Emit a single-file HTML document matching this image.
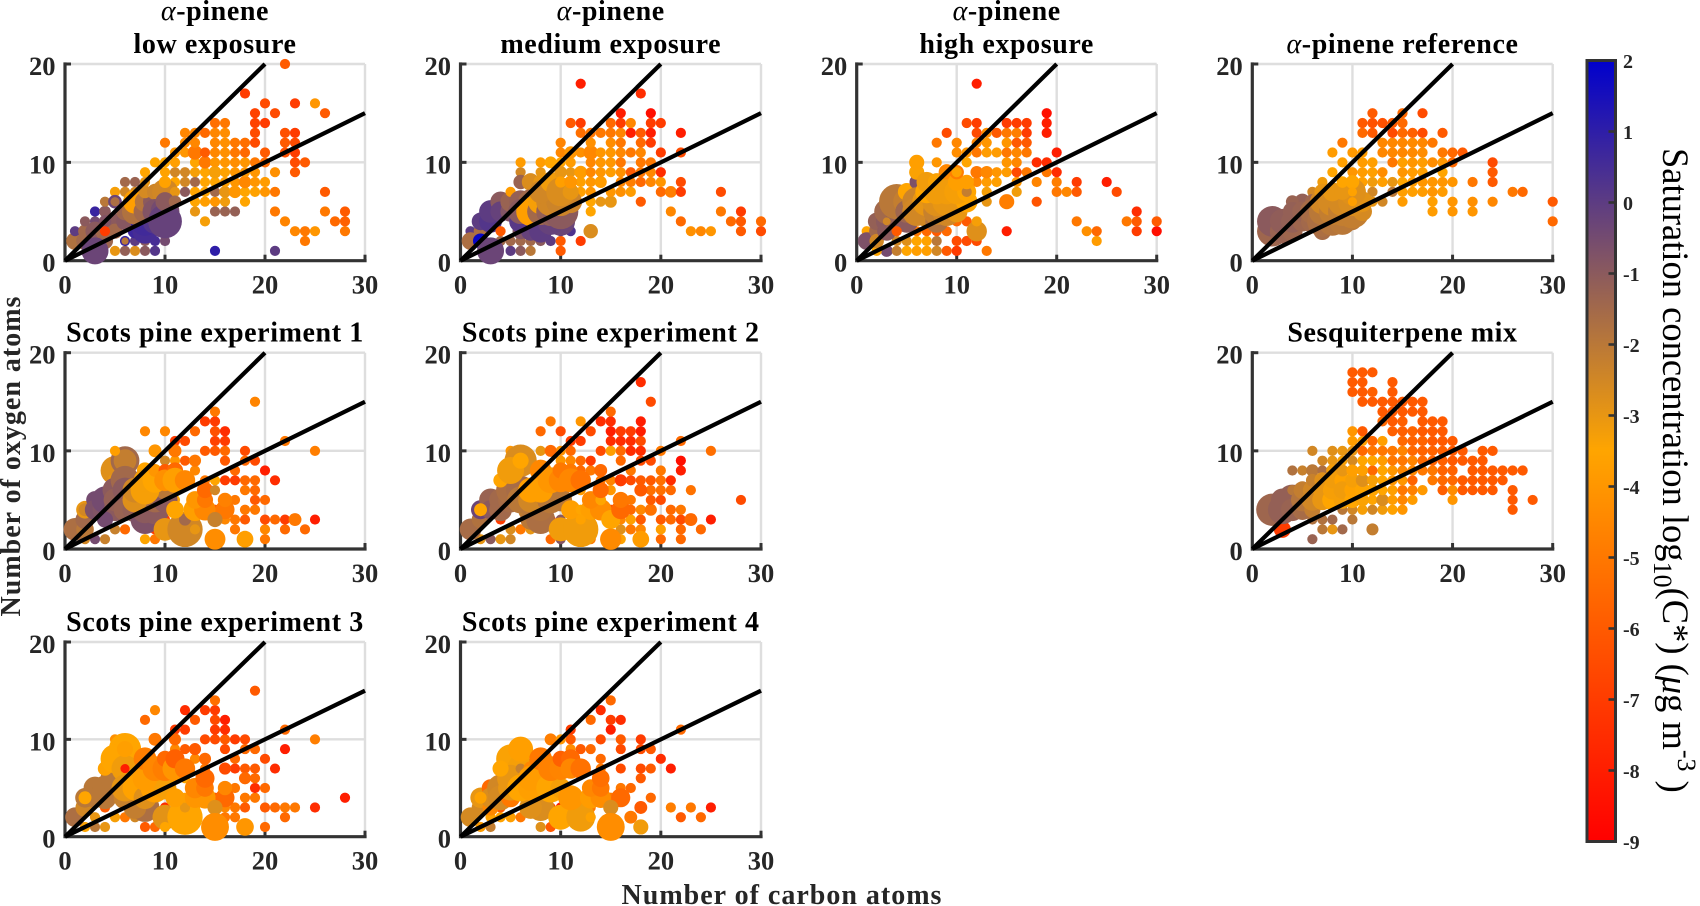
<!DOCTYPE html>
<html lang="en">
<head>
<meta charset="utf-8">
<title>Saturation concentration bubble charts</title>
<style>
html,body{margin:0;padding:0;background:#fff;width:1700px;height:906px;overflow:hidden}
svg{display:block}
text{font-family:"Liberation Serif",serif}
</style>
</head>
<body>
<svg id="figure" xmlns="http://www.w3.org/2000/svg" width="1700" height="906" viewBox="0 0 1700 906">
<defs>
<linearGradient id="cmap" x1="0" y1="0" x2="0" y2="1">
<stop offset="0" stop-color="#0000cd"/>
<stop offset="0.5" stop-color="#ffa500"/>
<stop offset="1" stop-color="#ff0000"/>
</linearGradient>
</defs>
</svg>
<script>
// Each mark: [carbon atoms, oxygen atoms, log10 C*, relative signal (default 1)]. Array order is draw order.
const xTicks = [0, 10, 20, 30];
const yTicks = [0, 10, 20];
const colorTicks = [2, 1, 0, -1, -2, -3, -4, -5, -6, -7, -8, -9];

const lowExposure = [
[5,1,-3],[6,1,-1.2],[7,1,-2.7],[8,1,-1],[9,1,.2],[15,1,1],[21,1,0],
[7,2,0],[8,2,-1],[9,2,.5],[10,2,-.5],[24,2,-5],
[23,3,-4.5],[24,3,-5],[25,3,-4],[28,3,-5],
[14,4,-3.3],[22,4,-4.6],[27,4,-5.5],[28,4,-5.8],
[13,5,-3],[15,5,-1.3],[16,5,-1.3],[17,5,-1.2],[21,5,-5],[26,5,-5],[28,5,-6],
[13,6,-3.5],[14,6,-3.7],[15,6,-4],[16,6,-3.2],[18,6,-3.5],
[12,7,-1],[13,7,-3.5],[14,7,-3.5],[15,7,-1.5],[16,7,-3,1.3],[17,7,-4,1.5],[18,7,-3.5],[19,7,-3.6],[20,7,-4],[21,7,-5],[26,7,-6],
[11,8,-3.5],[12,8,-2.5],[13,8,-1.5],[14,8,-3.5],[15,8,-3.5],[16,8,-3.7],[17,8,-4],[18,8,-4.5,1.5],[19,8,-4],[20,8,-3.8],
[8,9,-3.5],[10,9,-3.6],[11,9,-2.5],[12,9,-2.5],[13,9,-3.3],[14,9,-3.5],[15,9,-3.3,1.5],[16,9,-3.6],[17,9,-4],[18,9,-4],[19,9,-4],[21,9,-4.2],[23,9,-6],
[9,10,-3.5],[10,10,-3.5],[11,10,-3.7],[13,10,-3.5],[14,10,-5,1.5],[15,10,-4],[16,10,-4],[17,10,-4.3],[18,10,-4],[19,10,-5],[20,10,-5.5],[23,10,-6.5],[24,10,-6],
[11,11,-4],[12,11,-4],[13,11,-5,2],[14,11,-6],[15,11,-4.5],[16,11,-4.2],[17,11,-5],[18,11,-5.5],[20,11,-6],[22,11,-6.3],[23,11,-7],
[10,12,-5],[12,12,-4.3],[13,12,-4.5],[15,12,-4.5],[16,12,-4.2],[17,12,-5],[18,12,-5.3],[19,12,-6.5],[22,12,-6],[23,12,-6.5],
[12,13,-4.5],[13,13,-4.5],[14,13,-5.5],[15,13,-4.5],[16,13,-4.3],[19,13,-6.5],[22,13,-6.3],[23,13,-7],
[15,14,-5.3],[16,14,-5],[19,14,-6.8],[20,14,-7],[19,15,-6.8],[21,15,-6.5],[26,15,-6],
[20,16,-6.5],[23,16,-7],[25,16,-4],[18,17,-7],[22,20,-6],
[6,8,-1.5],[7,8,-1.3],[8,8,-3],[5,7,-3.3],[6,7,-2.5],[7,7,-2.5],[8,7,-3],[9,7,-3],
[1,2,-1.8,3],[1,3,0],[2,3,-1.5,1.8],[2,2,-1.5,3],[2,4,-1],[3,4,-.5],[3,5,.8],[4,5,-1,1.3],[4,6,-2],[5,6,-.3,1.8],[5,6,-1.7,.8],
[3,3,-1,3.5],[4,3,-1.5,3.5],[4,2,-1.4,2.5],[5,4,-1,2.5],[5,3,-1.5,2.2],[4,4,-.8,1.5],[3,1,-.3,7],[6,2,.8,1],[6,2,-2,.5],
[7,4,.6,2.5],[7,3,.7,2],[6,4,-.9,3],[6,5,-1.4,3],[8,3,.5,6],[8,4,.6,8],[9,4,.2,6],[7,5,-1.8,6.5],[7,6,-3.7,5.5],[8,5,-1.5,5],[8,6,-1.9,4],[9,6,-1,5.5],[8,7,-2.6,1.6],
[9,7,-2.4,2.5],[10,7,-2.5,6.5],[11,7,-3],[10,6,-3.5],[9,5,-.8,6],[10,5,-.5,8],[10,4,-.2,11],[10,6,-1,3.5],[10,8,-3.6,1.4],[11,6,-1.5,1.5],[4,3,-7]
];

const mediumExposure = [
[5,1,0],[6,1,-1],[7,1,-2],[10,1,-6],
[4,2,-1.5],[5,2,-1.5],[6,2,-1.5],[7,2,-1.5],[8,2,-1],[9,2,0],[10,2,-6],[12,2,-7],
[1,3,0],[2,3,-1],[10,3,0],[11,3,.3],[13,3,-2.7,2],[23,3,-4.2],[24,3,-4.5],[25,3,-4],[28,3,-6],[30,3,-6.5],
[22,4,-5.5],[27,4,-5.5],[28,4,-6],[30,4,-5.5],
[13,5,-3.5],[21,5,-4.5],[26,5,-5],[28,5,-7],
[13,6,-3.5],[14,6,-3],[15,6,-3,1.4],[18,6,-6],
[11,7,-3.5],[12,7,-3.7],[13,7,-4],[15,7,-4],[16,7,-4.2],[17,7,-3.8],[20,7,-5.5],[21,7,-4.8,1.3],[22,7,-7],[26,7,-6.5],
[12,8,-3.7],[13,8,-4],[14,8,-3.8,1.4],[16,8,-4.5],[17,8,-4.8],[18,8,-5.5],[19,8,-4.5],[20,8,-4],[22,8,-6.5],
[6,9,-2.5],[8,9,-3],[11,9,-3],[12,9,-3.8,1.6],[13,9,-4.5],[14,9,-4],[15,9,-3.8],[16,9,-4.2],[17,9,-6],[18,9,-5],[19,9,-4.5],[20,9,-7.5],
[6,10,-3.8],[8,10,-3.8],[9,10,-3.5,1.4],[10,10,-3.5],[11,10,-3.8],[13,10,-4.5],[14,10,-4],[15,10,-4],[16,10,-5],[18,10,-5],[19,10,-5],
[10,11,-4.5],[11,11,-4,1.5],[12,11,-4.2],[13,11,-4.5,2],[14,11,-4],[15,11,-4],[16,11,-4.5],[17,11,-5],[18,11,-4.5],[20,11,-7],[22,11,-6.5],
[10,12,-4.6],[13,12,-4.2],[15,12,-4.3],[16,12,-5],[18,12,-5.5],[19,12,-7],
[12,13,-5.3],[13,13,-5],[14,13,-5],[15,13,-5],[16,13,-4.6],[17,13,-8],[18,13,-6],[19,13,-8],[22,13,-8],
[11,14,-6],[12,14,-7],[15,14,-5.5],[16,14,-7],[17,14,-4.5],[19,14,-7],[20,14,-7],
[16,15,-8],[19,15,-8.5],[18,17,-7.5],[12,18,-8],
[1,2,-1.7,3],[2,3,-1.7,1.8],[2,4,0,3],[3,4,.2,5],[3,5,0,5],[2,2,1.8,2.2],[3,1,-.3,7],[4,6,-1,4],[4,5,-.2,4],[5,5,-.8,4],[5,6,-1.3,4],[5,7,-3.8],[6,8,-1.3,2],[6,6,-1.2,5],[7,8,-2.7,3],[8,8,-3,2],
[6,3,-.8,2.5],[7,3,-.2,3.5],[4,3,-6],[6,4,.1,5],[8,3,0,5],[8,4,0,8],[7,6,-1.5,6],[10,4,-.3,8],[9,4,-.2,7],[6,5,-1,6],[7,5,-3.7,8],[8,5,-1.5,7],[8,6,-3.3,6],[9,5,-1.2,8],[10,5,-1,12],
[9,6,-2.5,8],[10,6,-2.4,8],[11,6,-2.4,5],[8,7,-2.5,5],[9,8,-3.2,4],[10,7,-2.7,8],[11,7,-3,2.5],[10,9,-3,1.5],[10,8,-3.7,1.2],[11,8,-4,1.6]
];

const highExposure = [
[3,1,-.5,1.4],[4,1,-2.2],[5,1,-3.5],[6,1,-3.7],[7,1,-3.7],[8,1,-2.5],[9,1,-6],[10,1,-7],[13,1,-5],
[4,2,-2.5],[5,2,-2.8],[6,2,-3.5],[7,2,-3.6],[8,2,-2],[10,2,-6.5],[11,2,-6.5],[12,2,-6.5],[24,2,-3.8],
[1,3,-3.5],[6,3,-5],[7,3,-5.5],[8,3,-6],[9,3,-5.5],[15,3,-8],[23,3,-4.2],[24,3,-5.5],[28,3,-7],[30,3,-8.5],
[10,4,-5.5],[11,4,-6],[22,4,-5],[27,4,-5],[28,4,-6],[30,4,-6],[28,5,-7.5],
[13,6,-3],[15,6,-4.8,2.2],[18,6,-6.2],
[13,7,-3.3],[16,7,-3.2],[20,7,-5],[21,7,-4.5],[22,7,-6],[26,7,-6.5],
[12,8,-4.5],[13,8,-3.8],[14,8,-3.7],[16,8,-4],[18,8,-4.6],[20,8,-4.8],[22,8,-7],[25,8,-8],
[12,9,-5,1.5],[13,9,-4.5,1.5],[14,9,-4],[15,9,-3.8],[16,9,-6.5],[17,9,-5],[19,9,-5],[20,9,-7.5],
[8,10,-4],[15,10,-4],[16,10,-4.5],[18,10,-7.5],[19,10,-7.5],
[10,11,-4.3],[11,11,-4],[12,11,-5],[13,11,-3.8],[14,11,-3.8],[15,11,-5],[16,11,-4.5],[17,11,-5],[20,11,-8],
[8,12,-5],[10,12,-4.5],[12,12,-4.5],[13,12,-4],[15,12,-4],[16,12,-6],[17,12,-6],
[9,13,-6.5],[12,13,-6.5],[13,13,-4.3],[14,13,-6],[15,13,-5],[16,13,-4.8],[17,13,-7],[19,13,-8],
[11,14,-6.5],[12,14,-7],[15,14,-7],[16,14,-7],[17,14,-7],[19,14,-8],[19,15,-8.5],[12,18,-8],
[1,2,-.7,3],[2,1,-3.5],[2,3,-1.5,2.2],[2,2,-2.5,2],[12,3,-2.8,4],[12,4,-3.3],
[2,4,-1.2,3],[3,3,-1,3.5],[3,4,-1,4.5],[3,5,-1.5,6],[4,4,-1.2,5],[5,4,-1,5],[4,6,-2,12],[3,4,-2.5,.6],[4,3,-6],[5,6,-2.2,7],
[5,7,-3.5,3],[6,8,-.7,2],[6,9,-3.4,2.2],[6,10,-3.7,2.2],[5,5,-1.4,5],[6,6,-2.4,8],[6,5,-2.5,8],[7,5,-2.5,9],[8,4,-1.8,5],[7,6,-3,8],[8,5,-2.3,7],[9,5,-2.5,8],[8,6,-2.8,8],[9,6,-3,8],[7,7,-3.5,5],[8,7,-3.2,6],
[7,8,-3.2,4],[8,8,-3.4,3],[9,9,-4.5,2.5],[10,5,-3,4.5],[10,6,-3,6.5],[11,6,-3.5,4.5],[9,7,-3.2,6],[10,7,-3.3,6],[11,7,-3.5,3.5],[11,7,-2.2],[11,8,-3.7,2],[10,8,-3.7,3],[10,9,-4.8,2],[10,9,-3.6,1],[11,10,-3.5]
];

const pineneReference = [
[30,4,-5.5],[18,5,-3.8],[20,5,-4],[22,5,-4],
[12,6,-3],[13,6,-2.5],[15,6,-3.8],[18,6,-3.7],[20,6,-4],[22,6,-4.2],[24,6,-4.5],[30,6,-6],
[12,7,-2.5],[14,7,-2],[15,7,-3.7],[16,7,-3.7],[17,7,-3.8],[18,7,-4],[19,7,-3.8],[26,7,-5],[27,7,-5.5],
[7,8,-3.2],[11,8,-3.7],[12,8,-3.2],[13,8,-3.7],[14,8,-3],[15,8,-3.5],[16,8,-3.8],[17,8,-4],[18,8,-4],[19,8,-4],[20,8,-4],[22,8,-5],[24,8,-6],
[8,9,-3.5],[10,9,-4],[11,9,-3.8],[12,9,-3.7],[13,9,-4.3],[15,9,-4],[16,9,-3.8],[17,9,-3.7],[19,9,-3.5],[24,9,-6],
[9,10,-3.7],[11,10,-3.8],[12,10,-3.7],[14,10,-5],[15,10,-3.7],[16,10,-4],[17,10,-3.8],[18,10,-4.3],[19,10,-4],[20,10,-5.5],[24,10,-6.5],
[8,11,-3.8],[10,11,-3.9],[11,11,-3.8],[13,11,-4.5],[14,11,-4.5],[15,11,-4.5],[16,11,-4.4],[17,11,-4.3],[19,11,-5],[20,11,-5.5],[21,11,-6],
[9,12,-5],[13,12,-4.5],[14,12,-4.5],[15,12,-4.5],[16,12,-4.4],[17,12,-4.5],[18,12,-5],
[11,13,-5.5],[12,13,-6],[14,13,-6.5],[15,13,-5.5],[16,13,-5.8],[17,13,-6.5],[19,13,-6],
[11,14,-6],[12,14,-6.3],[13,14,-6.3],[14,14,-6],[15,14,-5.5],[12,15,-6],[15,15,-5.5],[17,15,-6.5],
[6,7,-2.5],[5,6,-1.2,2.5],[4,6,-1.3,1.6],[6,6,-1.4,2.2],
[2,3,-1.4,9],[2,4,-1,9],[3,3,-1.3,6],[3,4,-1.1,6],[4,3,-1.4,4],[4,4,-1.2,5],[4,5,-1.2,3.5],[5,4,-1.4,4],[5,5,-1.3,4],[6,4,-1.5,5],[6,5,-1.6,6],
[7,3,-1.6,3],[7,4,-1.7,9],[8,4,-1.9,8],[9,4,-2,7],[10,4,-2,3],[7,5,-2,7],[7,6,-2.5,6],[7,7,-3,2.5],[8,5,-2.2,7],[8,6,-2.6,8],[9,5,-2.2,8],[10,5,-2.2,11],[11,5,-2.6,3.5],[9,6,-2.6,8],[10,6,-2.7,8],[11,6,-2.9,4],[8,7,-3,3.5],[10,7,-2.8,7],[9,7,-3,2.5],[9,8,-3.5,1.3],[10,8,-3.5,1.8],[10,7,-3.6,.8],[10,6,-3.7,.8]
];

const sesquiterpeneMix = [
[6,1,-1.3],[7,2,-2],[8,2,-3],[9,2,-1.5],[12,2,-2.2,1.4],[3,2,-7,2.8],
[6,3,-1.8],[7,3,-1.8],[8,3,-1.5],[10,3,-2],
[9,4,-2],[10,4,-2.5],[11,4,-3.3],[12,4,-2.5],[13,4,-3.2],[14,4,-3.6],[15,4,-4],[26,4,-6],
[12,5,-3.5],[13,5,-2.7,1.5],[14,5,-3.8],[15,5,-4.5],[16,5,-3.8],[20,5,-4],[26,5,-6],[28,5,-6],
[13,6,-3.5],[14,6,-3.7],[15,6,-5],[16,6,-4.7],[17,6,-3.9],[19,6,-5.8],[20,6,-4.3],[21,6,-6],[22,6,-6],[23,6,-6],[24,6,-6],[26,6,-6],
[12,7,-3],[13,7,-3.5],[14,7,-4],[15,7,-4],[16,7,-5.7],[18,7,-5],[19,7,-5.5],[20,7,-5.5],[21,7,-6],[22,7,-6],[23,7,-6],[24,7,-6],[25,7,-6],
[4,8,-1.8],[5,8,-2.3],[6,8,-2,1.5],[7,8,-1.7],[12,8,-5.5],[13,8,-3.5],[14,8,-4],[15,8,-4.5],[16,8,-4.5],[17,8,-5],[18,8,-5],[19,8,-5.7],[20,8,-5.7],[22,8,-6],[23,8,-6],[24,8,-6],[25,8,-6],[26,8,-6],[27,8,-6],
[7,9,-2.5],[8,9,-3],[9,9,-3.3],[10,9,-2.6],[11,9,-3.5],[12,9,-3.5],[13,9,-3.8],[14,9,-5],[15,9,-5],[16,9,-4.6],[17,9,-5.5],[18,9,-5.7],[19,9,-5.8],[20,9,-6],[21,9,-6],[22,9,-6],[23,9,-6],
[6,10,-2.5],[8,10,-2.8],[9,10,-3],[10,10,-3],[11,10,-5.5],[12,10,-5],[13,10,-5],[14,10,-5],[15,10,-4.6],[16,10,-5.5],[17,10,-5.7],[18,10,-5.7],[19,10,-5.8],[20,10,-6],[21,10,-6],[23,10,-6],[24,10,-6],
[10,11,-3.8],[11,11,-3.7],[12,11,-5.5],[13,11,-3.7],[15,11,-5.5],[16,11,-5.7],[17,11,-5.7],[18,11,-6],[19,11,-6],[20,11,-6],
[10,12,-4],[11,12,-6],[14,12,-5.8],[15,12,-5.8],[16,12,-5.7],[17,12,-6],[18,12,-6],[19,12,-6],
[13,13,-5.5],[14,13,-6],[15,13,-5.8],[17,13,-6],[18,13,-6],[19,13,-6],
[13,14,-6],[14,14,-6],[15,14,-6],[16,14,-6],[17,14,-6],
[11,15,-6],[12,15,-6],[13,15,-6],[14,15,-6],[15,15,-6],[16,15,-6],[17,15,-6],
[10,16,-6],[11,16,-6],[12,16,-5.8],[14,16,-6],[10,17,-6],[11,17,-6],[14,17,-6],[10,18,-6],[11,18,-6],[12,18,-6],
[2,4,-1.4,10],[3,4,-1.2,8],[3,5,-1.2,5],[4,5,-1.2,9],[4,6,-2],[4,4,-1.3,5],[5,4,-1.6,4],[5,5,-1.9,5],[5,6,-2.2,3],[6,4,-2.2,2.5],[6,5,-2.5,4.5],[6,6,-2.5,3.5],[6,7,-2.3,1.6],[7,7,-2.8,2.5],[7,6,-3,3.5],[7,5,-3,4],[8,5,-3.5,4],
[8,6,-3.3,3.5],[8,7,-3.2,2.5],[9,5,-3.3,3],[9,7,-3.6,2.5],[9,6,-3.2,3],[8,8,-3.2,1.5],[9,8,-3,1.4],[10,5,-3.5,2.5],[10,6,-3.6,2.5],[10,7,-3.3,2],[10,8,-3.7,1.4],[11,5,-3.4,1.6],[11,6,-3.5,2.2],[11,7,-2.8,1.7],[11,8,-3.7,1.2],[12,6,-3.5,1.5],[12,7,-3.3,1.2]
];

const scotsPine1 = [
[2,1,-2.5],[3,1,-.5],[4,1,-2.3],[8,1,-3.5],[9,1,-5],[20,1,-5],
[5,2,-2.3],[6,2,-5.5],[13,2,-3],[17,2,-5],[20,2,-4.5],[22,2,-5.5],[24,2,-5.5],[9,2,-7],
[10,3,-7],[16,3,-4.5],[17,3,-5],[18,3,-6],[20,3,-6.5],[21,3,-5.5],[22,3,-7],[23,3,-5,1.6],[25,3,-8],
[18,4,-5],[19,4,-5],[15,4,-6],[17,5,-5],[19,5,-6],[20,5,-5.5],[11,5,-3.5],
[18,6,-5],[19,6,-5.5],
[14,7,-5],[16,7,-7],[17,7,-7],[18,7,-5.5],[19,7,-5.5],[21,7,-7.5],
[13,8,-4.5],[17,8,-5.5],[20,8,-8],
[10,9,-2.5],[11,9,-4],[12,9,-6],[13,9,-5,1.4],[16,9,-6],[18,9,-5.5],[19,9,-6.5],
[14,10,-6],[15,10,-6],[16,10,-5.5],[18,10,-6.5],[25,10,-4.8],
[11,11,-7],[12,11,-6.5],[15,11,-6.8],[16,11,-7],[22,11,-5],
[8,12,-4.5],[10,12,-4.5],[13,12,-5.5],[15,12,-6.3],[16,12,-7.5],
[14,13,-7],[15,13,-7],[15,14,-5],[19,15,-4.6],
[1,2,-1.7,5],[2,2,-2,3],[2,3,-1.5,3.5],[2,4,-3,3],[2,4,-2.5,1.6],[3,5,-.5,3],[3,4,-.7,4],[4,4,-.8,6],[4,5,-.5,7],[5,4,-1,5],[4,3,-.5,2.5],
[5,8,-2.8,8],[5,7,-3,2],[6,9,-1.5,8],[6,9,-2.2,5],[5,6,-1,6],[5,5,-1.2,5],[6,7,-1.5,8],[6,6,-1,6],[6,4,-1.3,5],[7,4,-1.2,6],[5,10,-3.7],
[8,3,-.7,8],[8,4,-1,7],[9,4,-1,8],[9,5,-1.5,6],[10,5,-1,6],[10,6,-2,3.5],[7,5,-2.8,6],[7,6,-2.5,6],[8,6,-3.3,8],[8,8,-3.5,2.5],[8,7,-3.3,5],[9,7,-3.5,6],[9,8,-4,1.6],[9,10,-4,1.6],[10,8,-6,1.6],[10,7,-4.2,4.5],[11,8,-5.5,2.5],[11,10,-5,1.6],
[10,2,-3,5],[12,2,-2.5,12],[12,3,-1.5,1.4],[13,2,-3],[11,4,-3.5,3],[13,4,-3.7,5],[14,4,-4.5,4.5],[13,5,-4,3],[14,5,-5,2.5],[16,4,-5,3.5],[16,5,-4.7,2],
[11,7,-3.7,6],[12,7,-4.5,4],[15,7,-3.5],[14,6,-5.5,2.5],[15,6,-2.5],[15,3,-2.3,2.2],[15,1,-4.3,4.2],[18,1,-3.7,2.7]
];

const scotsPine2 = [
[2,1,-3],[3,1,-1],[4,1,-3],[5,1,-2.5],[9,1,-5.5],[10,1,-.8],[13,1,-5],[16,1,-3.6],[20,1,-5.5],[22,1,-5.5],
[5,2,-2.7],[6,2,-5],[7,2,-3],[13,2,-3.5],[16,2,-2.8],[17,2,-5],[18,2,-4.5],[20,2,-3.7],[22,2,-5.5],[24,2,-5.5],
[4,3,-7],[9,3,-8],[10,3,-1],[16,3,-4.5],[17,3,-3.7],[18,3,-6],[20,3,-6],[21,3,-5.5],[22,3,-6.5],[23,3,-5.5,1.6],[25,3,-8],
[15,4,-6.3],[17,4,-5.5],[18,4,-4.5],[19,4,-5.2,1.4],[21,4,-5.5],[22,4,-5],
[17,5,-5],[19,5,-6],[20,5,-6.5],[28,5,-6.5],
[12,6,-3.8],[15,6,-4],[19,6,-5.3],[20,6,-5.3],[21,6,-5.5],[23,6,-5.2],
[14,7,-5],[15,7,-4.6],[16,7,-7,1.4],[17,7,-6.5],[18,7,-6],[19,7,-6],[20,7,-5.3],[21,7,-7.5],
[12,8,-5.5],[13,8,-5],[17,8,-5],[20,8,-5],[22,8,-8],
[10,9,-4],[11,9,-4.5],[12,9,-5.5],[13,9,-7],[16,9,-5.5],[18,9,-6.5],[19,9,-6.5],[22,9,-8.5],
[5,10,-4],[8,10,-3],[10,10,-4.2],[11,10,-5.5],[14,10,-6.5],[15,10,-3.7],[16,10,-5.5],[17,10,-7.5],[18,10,-7.5],[20,10,-5],[25,10,-5.3],
[11,11,-7],[12,11,-7],[15,11,-7.5],[16,11,-7.5],[17,11,-7.5],[18,11,-6.5],[22,11,-5.5],
[8,12,-5.5],[10,12,-6.5],[13,12,-6.5],[15,12,-8],[16,12,-7],[17,12,-7],[18,12,-8],
[9,13,-5],[12,13,-4],[14,13,-7.5],[15,13,-7.5],[18,13,-8],[15,14,-5.5],[19,15,-6.5],[18,17,-7.5],
[1,2,-1.6,4.5],[2,3,-1.8,3],[2,4,-.3,3.5],[3,5,-1.3,5],[3,4,-1,3.5],[4,4,-1.5,5],[4,5,-1.5,5],[5,5,-1.6,6],[5,6,-1.7,8],[6,6,-1.6,8],[7,4,-2.2,6],[7,3,-2,4],[8,3,-1.7,8],[8,4,-1.8,5],[4,7,-3.5,2],
[6,9,-2.7,10],[5,8,-3.2,7],[6,9,-3.5,2.5],[2,4,-3.5,1.6],[6,5,-2,7],[7,5,-2.5,6],[9,5,-2,7],[10,5,-2,5],[7,6,-3.7,6],[8,8,-4.5,4.5],[8,6,-3.7,6],[9,7,-4,6.5],[10,7,-4.5,5.5],[10,8,-5,2.5],[11,8,-5,1.8],[11,7,-4.5,5.5],[12,7,-5.2,4],[9,10,-5.5,1.4],
[10,2,-3.2,5.5],[12,2,-3.2,12],[11,4,-3.7,3.5],[12,4,-3.5],[13,4,-3.7,4],[14,4,-4.3,4.5],[13,5,-4.5,3],[14,5,-3.5,1.1],[12,3,-3.6],[15,3,-3.5,3.5],[16,4,-5.5,3.5],[16,5,-5,2.5],[14,6,-5.5,2.5],[18,6,-6,1.6],[14,8,-5.5,1.6],[15,1,-4.4,4.4],[18,1,-3.8,2.7]
];

const scotsPine3 = [
[2,1,-3.5],[3,1,-2],[4,1,-3],[8,1,-6],[9,1,-5.5],[20,1,-5.5],
[3,2,-3],[5,2,-3.3],[6,2,-5],[7,2,-2.5],[13,2,-3.7,1.3],[16,2,-5],[17,2,-5],[22,2,-5.5],
[4,3,-6],[10,3,-7.5],[13,3,-5],[16,3,-4.5],[17,3,-5],[18,3,-6],[20,3,-6],[21,3,-5.5],[22,3,-5],[23,3,-5],[25,3,-7.5],
[15,4,-6],[18,4,-5],[19,4,-5],[28,4,-8],[17,5,-5],[19,5,-7.5],[20,5,-5.5],
[19,6,-5.5],[12,6,-3.5],[14,7,-5],[17,7,-7],[18,7,-6],[19,7,-6],[21,7,-7.5],
[13,8,-4.5],[17,8,-5.5],[20,8,-6.5],
[11,9,-4.5],[12,9,-6],[16,9,-6.5],[18,9,-5.5],[19,9,-5.5],[22,9,-8],
[14,10,-6.5],[15,10,-6.5],[16,10,-6],[17,10,-7],[18,10,-6.5],[25,10,-4.8],
[11,11,-7],[12,11,-7],[15,11,-7],[16,11,-7.5],[22,11,-5.5],
[8,12,-5.5],[13,12,-6],[15,12,-6.5],[16,12,-8],
[9,13,-4.5],[12,13,-7.5],[14,13,-7],[15,13,-7],[15,14,-5.3],[19,15,-6],[5,10,-4.2],
[1,2,-1.7,3.7],[2,3,-2.5,3.5],[2,4,-2,3.7],[3,5,-2,5],[3,4,-2,4],[4,4,-2,5],[4,5,-2,6],[5,6,-2,8],[8,3,-1.7,8],[7,3,-2.2,5],[6,4,-2.3,5],[4,7,-3.6,2],
[6,9,-3.5,10],[5,8,-3.5,8],[6,7,-3.2,7],[6,7,-8,.8],[6,9,-3.7,2.5],[2,4,-3.5,1.6],[6,5,-3,7],[7,5,-3.6,6],[8,4,-2.8,5],[9,5,-3.7,8],[10,5,-3.3,5],[8,6,-3.8,6],
[8,8,-4.8,5],[9,7,-4.5,6],[9,10,-5,1.6],[10,7,-4.8,6],[10,8,-5.5,2.5],[11,7,-4,6],[11,8,-5.8,3.5],[11,10,-5.5,1.4],[12,7,-5,4],[13,9,-6,1.4],
[10,2,-2.9,6],[10,1,-3.5],[12,2,-3.5,12],[12,3,-3],[11,4,-3.7,3.5],[12,4,-3.7],[13,4,-4,4],[14,4,-4,4.5],[13,5,-4.5,4],[14,5,-5,3],[14,6,-5.5,3.5],[16,4,-5.5,3.5],[16,5,-4.5,2],[16,7,-6.5,1.4],[18,6,-5.5,1.4],[14,8,-5.5,1.4],
[15,3,-2.8,2.2],[15,1,-4.3,7.5],[18,1,-4,3]
];

const scotsPine4 = [
[2,1,-3.8],[3,1,-2.2],[8,1,-2.8],[9,1,-6],
[3,2,-3.6],[4,2,-3.6],[5,2,-3.7],[6,2,-5],[13,2,-3.5,.8],[15,2,-6],[22,2,-6],[24,2,-5.5],
[4,3,-6],[9,3,-6.5],[10,3,-8],[13,3,-5],[21,3,-4.8],[23,3,-5],[25,3,-8],
[15,4,-5],[19,4,-5.5],[10,5,-6],[16,5,-5],[17,5,-5.5],[18,6,-6],
[14,7,-5],[16,7,-6.5],[18,7,-6.5],[19,7,-6],[21,7,-8],
[14,8,-5.5],[20,8,-7.5],
[11,9,-4.3],[12,9,-6],[13,9,-5.5],[16,9,-6.5],[18,9,-6.5],[19,9,-6],
[9,10,-4.8,1.4],[10,10,-4],[11,10,-6],[14,10,-6.5],[16,10,-6],[18,10,-7],
[11,11,-7],[15,11,-8],[22,11,-5.5],[13,12,-5.5],[15,12,-7],[16,12,-7.5],[14,13,-7.5],[15,14,-5.5],
[1,2,-2.6,3.7],[2,3,-2.6,3],[2,4,-3,4],[3,3,-4.5,2.5],[3,5,-5.5,3],[3,4,-2.7,4],[4,5,-2.5,7],[4,4,-2.6,6],[8,3,-2.7,7],[7,3,-2.8,5],
[5,4,-5,3.5],[5,5,-3,6],[5,8,-3.4,8],[6,7,-3.3,7],[5,6,-3,7],[4,7,-3.5,2.5],[6,9,-3.7,6],[6,7,-2.3],[7,7,-4.5,2],[2,4,-3.6,1.4],
[6,5,-3.5,7],[7,5,-3.7,6],[7,6,-3.8,6],[8,6,-3.8,5],[9,5,-3.5,8],[10,5,-3.3,4],[8,8,-5,5],[9,7,-4.7,6],[10,7,-4.6,5],[10,8,-5.8,2.5],[11,8,-5.5,3.5],[11,7,-4.5,4],[12,7,-5.2,4],
[10,2,-3.5,6],[12,2,-3.2,8],[11,4,-4,6],[13,4,-3.8,4.5],[14,4,-4.3,4],[13,5,-4.5,3],[14,5,-5,3],[14,6,-5.3,3],[16,4,-5.5,3.5],[13,2,-3.6,1],
[15,3,-2.7,2.2],[17,2,-5,1.6],[18,3,-6,1.6],[15,1,-4.3,7.5],[18,1,-3.2,2.2]
];

const panelLayout = [
  {key:'low-exposure', title:['α|-pinene','low exposure'], marks:lowExposure, x0:65, x1:365, y20:64, y0:260.7},
  {key:'medium-exposure', title:['α|-pinene','medium exposure'], marks:mediumExposure, x0:460.5, x1:761, y20:64, y0:260.7},
  {key:'high-exposure', title:['α|-pinene','high exposure'], marks:highExposure, x0:856.7, x1:1156.7, y20:64, y0:260.7},
  {key:'reference', title:['α|-pinene reference'], marks:pineneReference, x0:1252.3, x1:1552.7, y20:64, y0:260.7},
  {key:'scots-pine-1', title:['Scots pine experiment 1'], marks:scotsPine1, x0:65, x1:365, y20:352.7, y0:549},
  {key:'scots-pine-2', title:['Scots pine experiment 2'], marks:scotsPine2, x0:460.5, x1:761, y20:352.7, y0:549},
  {key:'sesquiterpene', title:['Sesquiterpene mix'], marks:sesquiterpeneMix, x0:1252.3, x1:1552.7, y20:352.7, y0:549},
  {key:'scots-pine-3', title:['Scots pine experiment 3'], marks:scotsPine3, x0:65, x1:365, y20:642, y0:836.7},
  {key:'scots-pine-4', title:['Scots pine experiment 4'], marks:scotsPine4, x0:460.5, x1:761, y20:642, y0:836.7}
];

const svg = document.getElementById('figure');
const NS = 'http://www.w3.org/2000/svg';
const INK = '#333333';
const LABEL = '#262626';

function el(tag, attrs, parent, text) {
  const node = document.createElementNS(NS, tag);
  for (const k in attrs) node.setAttribute(k, attrs[k]);
  if (text !== undefined) node.textContent = text;
  (parent || svg).appendChild(node);
  return node;
}

function lerp(a, b, t) { return a + (b - a) * t; }
function colorFor(v) {
  const t = Math.max(0, Math.min(1, (2 - v) / 11));
  let r, g, b;
  if (t < 0.5) { const u = t / 0.5; r = lerp(0, 255, u); g = lerp(0, 165, u); b = lerp(205, 0, u); }
  else { const u = (t - 0.5) / 0.5; r = 255; g = lerp(165, 0, u); b = 0; }
  return 'rgb(' + Math.round(r) + ',' + Math.round(g) + ',' + Math.round(b) + ')';
}
function radiusFor(signal) { return 5.1 * Math.sqrt(signal); }

panelLayout.forEach(function (p) {
  const sx = function (c) { return p.x0 + (p.x1 - p.x0) * c / 30; };
  const sy = function (o) { return p.y0 - (p.y0 - p.y20) * o / 20; };
  const g = el('g', {});
  
  

  xTicks.filter(function (t) { return t > 0; }).forEach(function (t) {
    const line = el('line', {x1:sx(t), x2:sx(t), y1:sy(0), y2:sy(20), stroke:'#dedede', 'stroke-width':2.4}, g);
    
    
  });
  yTicks.filter(function (t) { return t > 0; }).forEach(function (t) {
    const line = el('line', {x1:sx(0), x2:sx(30), y1:sy(t), y2:sy(t), stroke:'#dedede', 'stroke-width':2.4}, g);
    
    
  });

  const axisPath = el('path', {d:'M' + sx(0) + ' ' + sy(20) + 'V' + sy(0) + 'H' + sx(30), fill:'none', stroke:INK, 'stroke-width':3.2, 'stroke-linecap':'square'}, g);
  
  

  xTicks.forEach(function (t) {
    if (t > 0) {
      const tick = el('line', {x1:sx(t), x2:sx(t), y1:sy(0), y2:sy(0) - 6, stroke:INK, 'stroke-width':3}, g);
      
      
    }
    const lab = el('text', {x:sx(t), y:sy(0) + 33, 'text-anchor':'middle', 'font-size':26.5, 'font-weight':'bold', fill:LABEL}, g, String(t));
    
    
  });
  yTicks.forEach(function (t) {
    if (t > 0) {
      const tick = el('line', {x1:sx(0), x2:sx(0) + 6, y1:sy(t), y2:sy(t), stroke:INK, 'stroke-width':3}, g);
      
      
    }
    const lab = el('text', {x:sx(0) - 9.5, y:sy(t) + 11, 'text-anchor':'end', 'font-size':26.5, 'font-weight':'bold', fill:LABEL}, g, String(t));
    
    
  });

  p.marks.forEach(function (m) {
    const dot = el('circle', {cx:sx(m[0]), cy:sy(m[1]), r:radiusFor(m[3] === undefined ? 1 : m[3]), fill:colorFor(m[2])}, g);
    
    
  });

  const ratio1 = el('line', {x1:sx(0), y1:sy(0), x2:sx(20), y2:sy(20), stroke:'#000', 'stroke-width':4.2}, g);
  
  
  const ratio2 = el('line', {x1:sx(0), y1:sy(0), x2:sx(30), y2:sy(15), stroke:'#000', 'stroke-width':4.2}, g);
  
  

  const cx = (p.x0 + p.x1) / 2;
  const lastY = p.y20 - 11;
  p.title.forEach(function (line, i) {
    const y = lastY - (p.title.length - 1 - i) * 33;
    const t = el('text', {x:cx, y:y, 'text-anchor':'middle', 'font-size':28, 'font-weight':'bold', 'letter-spacing':'0.6', fill:'#000'}, g);
    
    
    const parts = line.split('|');
    if (parts.length === 2) {
      el('tspan', {'font-style':'italic', 'font-weight':'normal'}, t, parts[0]);
      el('tspan', {}, t, parts[1]);
    } else {
      t.textContent = line;
    }
  });
});

// Colour bar
const cbLeft = 1587, cbRight = 1615.5, cbTop = 60.5, cbBottom = 841.5;
const cb = el('g', {});


const cbRect = el('rect', {x:cbLeft, y:cbTop, width:cbRight - cbLeft, height:cbBottom - cbTop, fill:'url(#cmap)', stroke:INK, 'stroke-width':3}, cb);


colorTicks.forEach(function (t) {
  const y = cbTop + (2 - t) / 11 * (cbBottom - cbTop);
  if (t < 2 && t > -9) {
    const tick = el('line', {x1:cbRight - 7, x2:cbRight, y1:y, y2:y, stroke:INK, 'stroke-width':2.6}, cb);
    
    
  }
  const lab = el('text', {x:1623, y:y + 7.5, 'font-size':20, 'font-weight':'bold', fill:LABEL}, cb, String(t));
  
  
});

const cbTitle = el('text', {transform:'translate(1663,148) rotate(90)', 'font-size':36.5, fill:'#000'});


el('tspan', {}, cbTitle, 'Saturation concentration log');
el('tspan', {'font-size':26, dy:9}, cbTitle, '10');
el('tspan', {dy:-9}, cbTitle, '(C*) (');
el('tspan', {'font-style':'italic'}, cbTitle, 'μ');
el('tspan', {}, cbTitle, 'g m');
el('tspan', {'font-size':26, dy:-15}, cbTitle, '-3');
el('tspan', {dy:15}, cbTitle, ' )');

const xTitle = el('text', {x:782, y:904, 'text-anchor':'middle', 'font-size':28, 'font-weight':'bold', 'letter-spacing':'1', fill:LABEL}, svg, 'Number of carbon atoms');


const yTitle = el('text', {transform:'translate(20,456) rotate(-90)', 'text-anchor':'middle', 'font-size':28, 'font-weight':'bold', 'letter-spacing':'1', fill:LABEL}, svg, 'Number of oxygen atoms');


</script>
</body>
</html>
